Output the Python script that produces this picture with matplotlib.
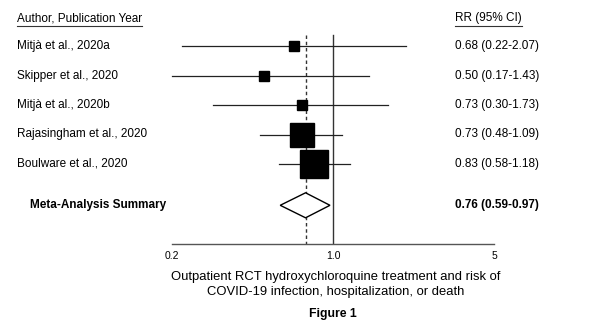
import matplotlib
matplotlib.use("Agg")
import matplotlib.pyplot as plt
from matplotlib import transforms
from matplotlib.lines import Line2D
from matplotlib.patches import Polygon
import numpy as np

plt.rcParams['font.family'] = ['Liberation Sans', 'DejaVu Sans']

studies = ["Mitjà et al., 2020a", "Skipper et al., 2020", "Mitjà et al., 2020b",
           "Rajasingham et al., 2020", "Boulware et al., 2020"]
rr = [0.68, 0.50, 0.73, 0.73, 0.83]
lo = [0.22, 0.17, 0.30, 0.48, 0.58]
hi = [2.07, 1.43, 1.73, 1.09, 1.18]
summary_label = "Meta-Analysis Summary"
sum_rr, sum_lo, sum_hi = 0.76, 0.59, 0.97
tick_vals = [0.2, 1.0, 5]
tick_labels = ["0.2", "1.0", "5"]

# style: square marker sizes (pt)
msizes = [7.2, 7.2, 7.2, 17.5, 20.5]

W, H = 600, 323
fig = plt.figure(figsize=(6, 3.23), dpi=100)
ax = fig.add_axes([172 / W, (H - 244) / H, 322 / W, 244 / H])
ax.set_xscale('log')
ax.set_xlim(0.2, 5)
step = 29.5
ytop = -46 / step
ybot = (244 - 46) / step
ax.set_ylim(ybot, ytop)
for s in ['top', 'right', 'left']:
    ax.spines[s].set_visible(False)
ax.spines['bottom'].set_color('#555555')
ax.spines['bottom'].set_linewidth(1.0)
ax.set_yticks([])
ax.set_xticks(tick_vals)
ax.set_xticklabels(tick_labels, fontsize=7.5)
ax.xaxis.set_minor_locator(matplotlib.ticker.NullLocator())
ax.tick_params(axis='x', length=0, pad=5)

ys = list(range(len(studies)))
ysum = len(studies) - 1 + 1.4
line_top = (35 - 46) / step

ax.plot([1.0, 1.0], [line_top, ybot], color='#333333', lw=1.0, zorder=1)
ax.plot([sum_rr, sum_rr], [line_top, ybot], color='#333333', lw=1.0,
        linestyle=(0, (2.5, 2)), zorder=1)

for y, r, l, h, ms in zip(ys, rr, lo, hi, msizes):
    ax.plot([max(l, 0.2), min(h, 5)], [y, y], color='#222222', lw=0.9, zorder=2,
            clip_on=False)
    ax.plot([r], [y], marker='s', markersize=ms, color='black', zorder=3,
            linestyle='none')

hd = 12.5 / step
diamond = Polygon([[sum_lo, ysum], [sum_rr, ysum - hd], [sum_hi, ysum],
                   [sum_rr, ysum + hd]], closed=True, facecolor='white',
                  edgecolor='black', lw=1.0, zorder=3)
ax.add_patch(diamond)

trans = transforms.blended_transform_factory(fig.transFigure, ax.transData)
fs = 8.5
xl = 17 / W
xr = 455 / W
hy = -1 + (18.5 - 16.5) / step
t1 = ax.text(xl, hy, "Author, Publication Year", transform=trans, fontsize=fs,
             va='center', ha='left')
t2 = ax.text(xr, hy, "RR (95% CI)", transform=trans, fontsize=fs,
             va='center', ha='left')
for y, name, r, l, h in zip(ys, studies, rr, lo, hi):
    ax.text(xl, y, name, transform=trans, fontsize=fs, va='center', ha='left')
    ax.text(xr, y, f"{r:.2f} ({l:.2f}-{h:.2f})", transform=trans, fontsize=fs,
            va='center', ha='left')
ax.text(30 / W, ysum, summary_label, transform=trans, fontsize=fs,
        fontweight='bold', va='center', ha='left')
ax.text(xr, ysum, f"{sum_rr:.2f} ({sum_lo:.2f}-{sum_hi:.2f})", transform=trans,
        fontsize=fs, fontweight='bold', va='center', ha='left')

fig.text(336 / W, 1 - 284.5 / H,
         "Outpatient RCT hydroxychloroquine treatment and risk of\nCOVID-19 infection, hospitalization, or death",
         ha='center', va='center', fontsize=9.4, linespacing=1.4)
fig.text(333 / W, 1 - 314 / H, "Figure 1", ha='center', va='center',
         fontsize=8.8, fontweight='bold')

# underline headers
fig.canvas.draw()
r = fig.canvas.get_renderer()
for t in (t1, t2):
    bb = t.get_window_extent(renderer=r)
    yline = bb.y0 - 1
    fig.add_artist(Line2D([bb.x0 / W, bb.x1 / W], [yline / H, yline / H],
                          color='#333333', lw=0.8, transform=fig.transFigure))

fig.savefig("out.png", dpi=100)
